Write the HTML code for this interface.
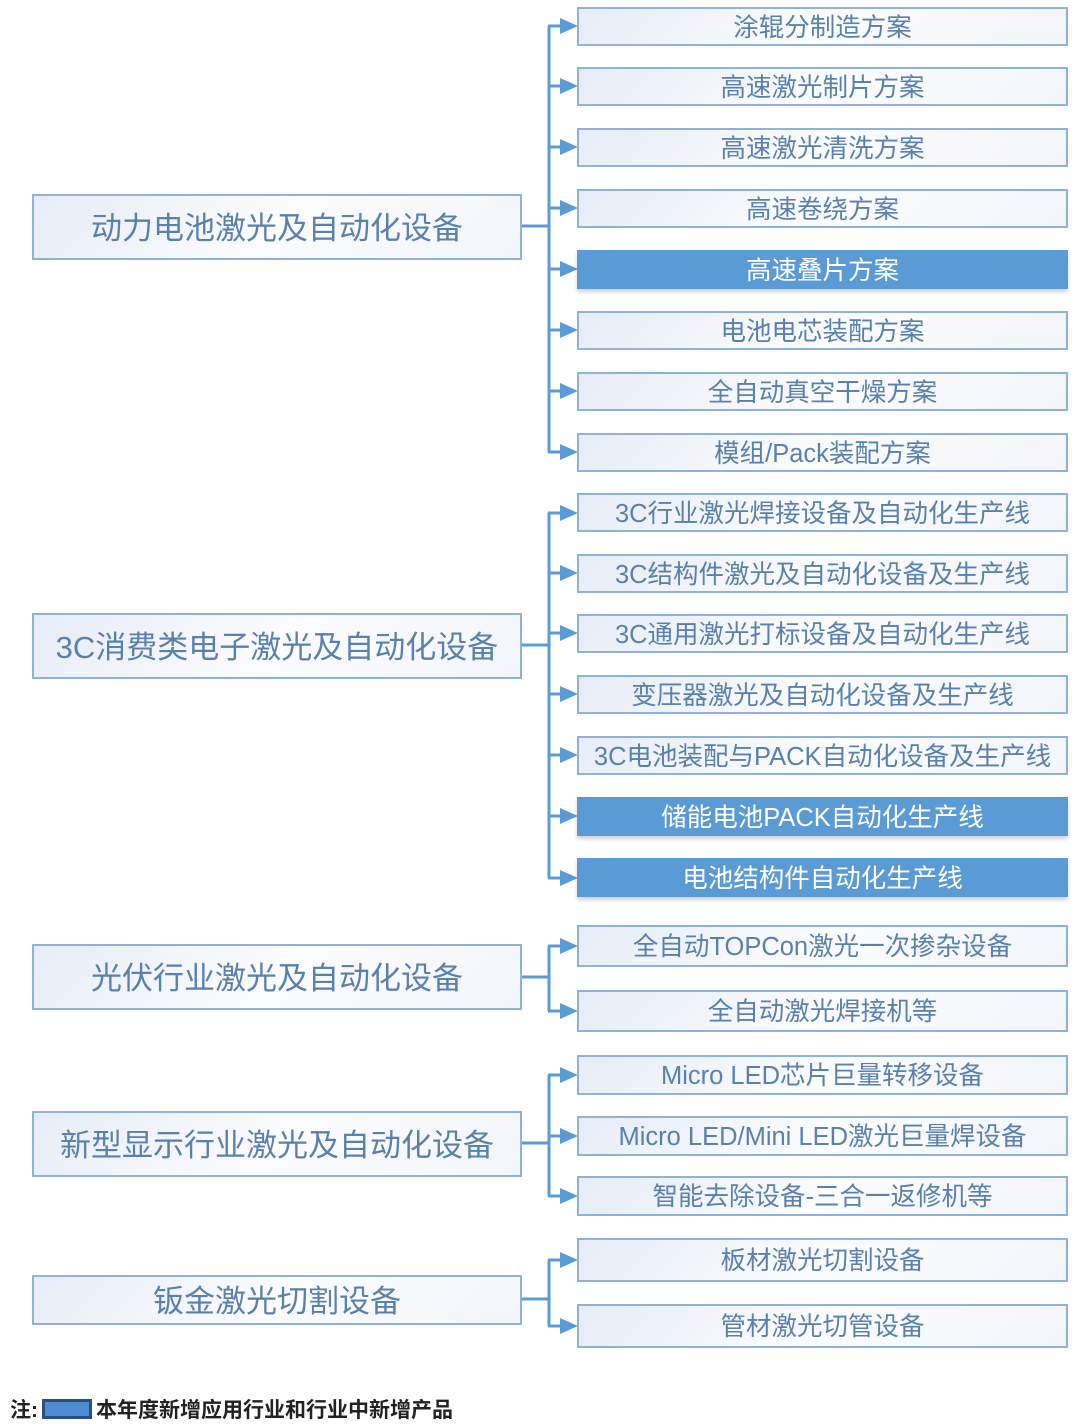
<!DOCTYPE html>
<html><head><meta charset="utf-8">
<style>
body{margin:0;width:1080px;height:1424px;background:#fff;position:relative;overflow:hidden;font-family:"Liberation Sans","Noto Sans CJK SC",sans-serif;}
.b{position:absolute;box-sizing:border-box;border:2px solid #8db3dc;background:linear-gradient(135deg,#e6ecf6 0%,#fbfcfe 50%,#f2f5fa 100%);color:#5a80ad;display:flex;align-items:center;justify-content:center;white-space:nowrap;padding-bottom:3px;}
.r{left:577px;width:491px;font-size:25.5px;}
.l{left:32px;width:490px;font-size:31px;}
.h{background:#5b9bd5;border-color:#5b9bd5;color:#fff;box-shadow:0 3px 4px rgba(0,0,0,0.18);}
svg{position:absolute;left:0;top:0;}
.note{position:absolute;left:10px;top:1394px;font-size:21px;font-weight:bold;color:#222;display:flex;align-items:center;}
.sw{display:inline-block;width:50px;height:20px;background:#4f8bd0;border:3px solid #2a4f80;box-sizing:border-box;margin:0 4px;}
</style></head><body>
<svg width="1080" height="1424" stroke="#5b9bd5" stroke-width="3" fill="#5b9bd5">
<line x1="521" y1="226" x2="549" y2="226"/><line x1="549" y1="26" x2="549" y2="452"/>
<line x1="521" y1="645" x2="549" y2="645"/><line x1="549" y1="513" x2="549" y2="878"/>
<line x1="521" y1="977" x2="549" y2="977"/><line x1="549" y1="946" x2="549" y2="1011"/>
<line x1="521" y1="1143" x2="549" y2="1143"/><line x1="549" y1="1075" x2="549" y2="1196"/>
<line x1="521" y1="1299" x2="549" y2="1299"/><line x1="549" y1="1260" x2="549" y2="1326"/>
<g>
<line x1="548" y1="26" x2="562" y2="26"/><polygon stroke="none" points="560,18 578,26 560,34"/>
<line x1="548" y1="86" x2="562" y2="86"/><polygon stroke="none" points="560,78 578,86 560,94"/>
<line x1="548" y1="147" x2="562" y2="147"/><polygon stroke="none" points="560,139 578,147 560,155"/>
<line x1="548" y1="208" x2="562" y2="208"/><polygon stroke="none" points="560,200 578,208 560,216"/>
<line x1="548" y1="269" x2="562" y2="269"/><polygon stroke="none" points="560,261 578,269 560,277"/>
<line x1="548" y1="330" x2="562" y2="330"/><polygon stroke="none" points="560,322 578,330 560,338"/>
<line x1="548" y1="391" x2="562" y2="391"/><polygon stroke="none" points="560,383 578,391 560,399"/>
<line x1="548" y1="452" x2="562" y2="452"/><polygon stroke="none" points="560,444 578,452 560,460"/>
<line x1="548" y1="513" x2="562" y2="513"/><polygon stroke="none" points="560,505 578,513 560,521"/>
<line x1="548" y1="573" x2="562" y2="573"/><polygon stroke="none" points="560,565 578,573 560,581"/>
<line x1="548" y1="633" x2="562" y2="633"/><polygon stroke="none" points="560,625 578,633 560,641"/>
<line x1="548" y1="694" x2="562" y2="694"/><polygon stroke="none" points="560,686 578,694 560,702"/>
<line x1="548" y1="755" x2="562" y2="755"/><polygon stroke="none" points="560,747 578,755 560,763"/>
<line x1="548" y1="816" x2="562" y2="816"/><polygon stroke="none" points="560,808 578,816 560,824"/>
<line x1="548" y1="878" x2="562" y2="878"/><polygon stroke="none" points="560,870 578,878 560,886"/>
<line x1="548" y1="946" x2="562" y2="946"/><polygon stroke="none" points="560,938 578,946 560,954"/>
<line x1="548" y1="1011" x2="562" y2="1011"/><polygon stroke="none" points="560,1003 578,1011 560,1019"/>
<line x1="548" y1="1075" x2="562" y2="1075"/><polygon stroke="none" points="560,1067 578,1075 560,1083"/>
<line x1="548" y1="1136" x2="562" y2="1136"/><polygon stroke="none" points="560,1128 578,1136 560,1144"/>
<line x1="548" y1="1196" x2="562" y2="1196"/><polygon stroke="none" points="560,1188 578,1196 560,1204"/>
<line x1="548" y1="1260" x2="562" y2="1260"/><polygon stroke="none" points="560,1252 578,1260 560,1268"/>
<line x1="548" y1="1326" x2="562" y2="1326"/><polygon stroke="none" points="560,1318 578,1326 560,1334"/>
</g>
</svg>

<div class="b l" style="top:194px;height:66px">动力电池激光及自动化设备</div>
<div class="b l" style="top:613px;height:66px">3C消费类电子激光及自动化设备</div>
<div class="b l" style="top:944px;height:66px">光伏行业激光及自动化设备</div>
<div class="b l" style="top:1111px;height:66px">新型显示行业激光及自动化设备</div>
<div class="b l" style="top:1275px;height:50px">钣金激光切割设备</div>

<div class="b r" style="top:7px;height:39px">涂辊分制造方案</div>
<div class="b r" style="top:67px;height:39px">高速激光制片方案</div>
<div class="b r" style="top:128px;height:39px">高速激光清洗方案</div>
<div class="b r" style="top:189px;height:39px">高速卷绕方案</div>
<div class="b r h" style="top:250px;height:39px">高速叠片方案</div>
<div class="b r" style="top:311px;height:39px">电池电芯装配方案</div>
<div class="b r" style="top:372px;height:39px">全自动真空干燥方案</div>
<div class="b r" style="top:433px;height:39px">模组/Pack装配方案</div>
<div class="b r" style="top:493px;height:39px">3C行业激光焊接设备及自动化生产线</div>
<div class="b r" style="top:554px;height:39px">3C结构件激光及自动化设备及生产线</div>
<div class="b r" style="top:614px;height:39px">3C通用激光打标设备及自动化生产线</div>
<div class="b r" style="top:675px;height:39px">变压器激光及自动化设备及生产线</div>
<div class="b r" style="top:736px;height:39px">3C电池装配与PACK自动化设备及生产线</div>
<div class="b r h" style="top:797px;height:39px">储能电池PACK自动化生产线</div>
<div class="b r h" style="top:858px;height:39px">电池结构件自动化生产线</div>
<div class="b r" style="top:925px;height:42px">全自动TOPCon激光一次掺杂设备</div>
<div class="b r" style="top:990px;height:42px">全自动激光焊接机等</div>
<div class="b r" style="top:1055px;height:40px">Micro LED芯片巨量转移设备</div>
<div class="b r" style="top:1116px;height:40px">Micro LED/Mini LED激光巨量焊设备</div>
<div class="b r" style="top:1176px;height:40px">智能去除设备-三合一返修机等</div>
<div class="b r" style="top:1238px;height:44px">板材激光切割设备</div>
<div class="b r" style="top:1304px;height:44px">管材激光切管设备</div>

<div class="note">注:<span class="sw"></span>本年度新增应用行业和行业中新增产品</div>
</body></html>
